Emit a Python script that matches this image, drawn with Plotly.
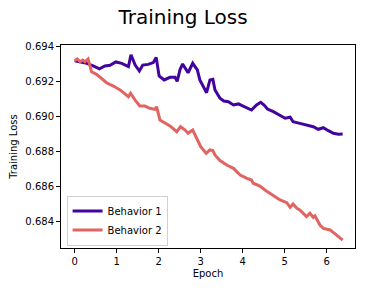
import plotly.graph_objects as go

# Behavior 1 (epoch, loss)
b1_epoch = [0.0, 0.13, 0.29, 0.44, 0.59, 0.72, 0.84, 0.98, 1.12, 1.28, 1.34, 1.44, 1.54, 1.62, 1.75, 1.87, 1.94,
            2.01, 2.13, 2.27, 2.39, 2.44, 2.51, 2.57, 2.70, 2.81, 2.92, 2.98, 3.08, 3.14, 3.22, 3.29, 3.34,
            3.46, 3.55, 3.66, 3.78, 3.90, 4.01, 4.21, 4.33, 4.43, 4.51, 4.59, 4.73, 4.89, 5.01, 5.13, 5.20,
            5.36, 5.52, 5.68, 5.80, 5.92, 6.04, 6.16, 6.28, 6.38]
b1_loss = [0.6932, 0.69314, 0.69305, 0.6929, 0.69274, 0.6929, 0.69294, 0.69313, 0.69305, 0.69286, 0.69354,
           0.69295, 0.69261, 0.69295, 0.69299, 0.69309, 0.69339, 0.69233, 0.6921, 0.69225, 0.69225, 0.69202,
           0.69271, 0.69301, 0.69251, 0.69305, 0.69267, 0.6921, 0.69162, 0.69137, 0.6921, 0.69214, 0.69153,
           0.69105, 0.6909, 0.69086, 0.69067, 0.69073, 0.69061, 0.69038, 0.69067, 0.69082, 0.69067, 0.69044,
           0.69029, 0.6901, 0.68991, 0.68997, 0.68971, 0.68962, 0.68951, 0.68943, 0.68928, 0.68937, 0.6892,
           0.68905, 0.689, 0.68901]

# Behavior 2 (epoch, loss)
b2_epoch = [0.0, 0.06, 0.13, 0.19, 0.245, 0.32, 0.36, 0.40, 0.52, 0.64, 0.76, 0.92, 1.08, 1.28, 1.33, 1.44,
            1.55, 1.67, 1.79, 1.91, 1.95, 2.03, 2.15, 2.27, 2.43, 2.52, 2.63, 2.70, 2.81, 2.90, 3.0, 3.13,
            3.22, 3.29, 3.34, 3.46, 3.62, 3.78, 3.94, 4.10, 4.21, 4.25, 4.41, 4.53, 4.73, 4.89, 5.05, 5.13,
            5.20, 5.29, 5.36, 5.52, 5.60, 5.68, 5.72, 5.84, 5.92, 6.08, 6.20, 6.38]
b2_loss = [0.6932, 0.6933, 0.69314, 0.69324, 0.69314, 0.6933, 0.69295, 0.69257, 0.69242, 0.69219, 0.69194,
           0.69175, 0.69153, 0.69114, 0.69134, 0.69095, 0.69061, 0.69061, 0.69048, 0.69042, 0.69057, 0.68981,
           0.68962, 0.68947, 0.68914, 0.68943, 0.68924, 0.68905, 0.68924, 0.68877, 0.68829, 0.68791, 0.6881,
           0.68806, 0.68781, 0.68749, 0.68724, 0.68705, 0.68667, 0.68648, 0.68638, 0.6862, 0.68604, 0.68581,
           0.68547, 0.68524, 0.68509, 0.68482, 0.68501, 0.68477, 0.68467, 0.68429, 0.68448, 0.68425, 0.68433,
           0.68381, 0.68362, 0.68353, 0.6833, 0.68295]

x_ticks = [0, 1, 2, 3, 4, 5, 6]
y_ticks = [0.684, 0.686, 0.688, 0.690, 0.692, 0.694]
y_tick_labels = ["0.684", "0.686", "0.688", "0.690", "0.692", "0.694"]

font = "DejaVu Sans, Liberation Sans, sans-serif"

fig = go.Figure()
fig.add_trace(go.Scatter(x=b1_epoch, y=b1_loss, mode="lines", name="Behavior 1",
                         line=dict(color="#41049d", width=3)))
fig.add_trace(go.Scatter(x=b2_epoch, y=b2_loss, mode="lines", name="Behavior 2",
                         line=dict(color="#e16462", width=3)))

axis_common = dict(showgrid=False, zeroline=False, showline=True, mirror=True, automargin=False,
                   linecolor="black", linewidth=1, ticks="outside", ticklen=4,
                   tickcolor="black", tickwidth=1, tickfont=dict(size=10, color="black", family=font))

fig.update_layout(
    width=366, height=292, autosize=False,
    margin=dict(l=61, r=11, t=45, b=44),
    paper_bgcolor="white", plot_bgcolor="white",
    font=dict(family=font, color="black"),
    title=dict(text="Training Loss", x=0.5, xanchor="center", xref="container",
               y=1 - 17 / 292, yref="container", yanchor="middle",
               font=dict(size=20, color="black", family=font)),
    xaxis=dict(range=[-0.326, 6.674], tickvals=x_ticks,
               title=dict(text="Epoch", font=dict(size=10), standoff=3), **axis_common),
    yaxis=dict(range=[0.682497, 0.694097], tickvals=y_ticks, ticktext=y_tick_labels,
               title=dict(text="Training Loss", font=dict(size=10), standoff=5), **axis_common),
    legend=dict(x=0.019, y=0.012, xanchor="left", yanchor="bottom",
                bgcolor="rgba(255,255,255,0.8)", bordercolor="#d0d0d0", borderwidth=1,
                font=dict(size=10, color="black", family=font),
                tracegroupgap=0, itemwidth=30),
    showlegend=True,
)

fig.write_html("out.html", config={"displayModeBar": False},
               post_script="document.body.style.margin='0';document.body.style.padding='0';")
